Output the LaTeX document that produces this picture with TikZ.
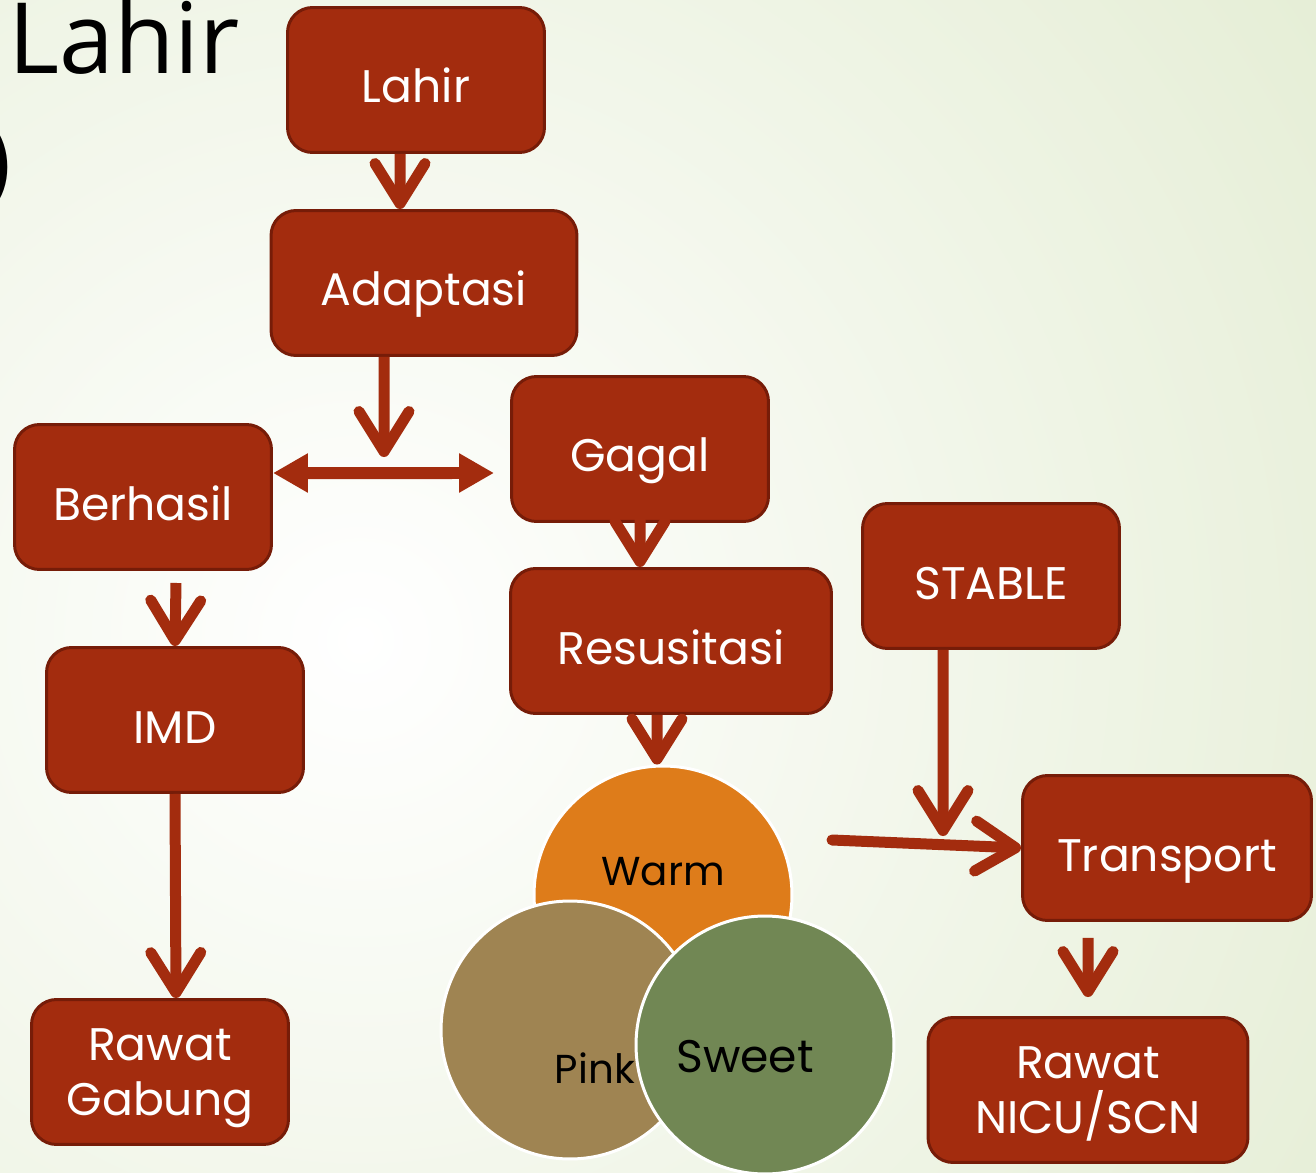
\documentclass[tikz,border=0pt]{standalone}
\usepackage{fontspec}
\newfontfamily\boxfont{Poppins}
\newfontfamily\titlefont{Open Sans}
\usetikzlibrary{arrows.meta}

\definecolor{boxred}{RGB}{163,44,14}
\definecolor{boxline}{RGB}{118,28,8}
\definecolor{warmc}{RGB}{222,124,26}
\definecolor{pinkc}{RGB}{159,132,82}
\definecolor{sweetc}{RGB}{113,135,84}
\definecolor{bgedge}{RGB}{222,233,202}

\tikzset{
  box/.style={draw=boxline,line width=0.06cm,fill=boxred,rounded corners=0.5cm,
    minimum width=5.14cm,minimum height=2.9cm,text=white,align=center,
    text height=0.92cm,text depth=0cm,
    font=\boxfont\fontsize{26}{31}\selectfont},
  twoline/.style={text height=,text depth=0cm},
  ball/.style={circle,draw=white,line width=0.06cm,minimum size=5.16cm,inner sep=0pt},
  balltext/.style={text=black,inner sep=0pt,font=\boxfont\fontsize{23}{28}\selectfont},
  flow/.style={draw=boxred,line width=0.22cm,-{Straight Barb[length=0.8cm,width=1.0cm,round]}},
  both/.style={draw=boxred,line width=0.24cm,{Triangle[length=0.7cm,width=0.74cm]}-{Triangle[length=0.7cm,width=0.74cm]}}
}

\begin{document}
\begin{tikzpicture}[x=0.02cm,y=-0.02cm]
        \useasboundingbox (0,0) rectangle (1316,1173);
        \begin{scope}
        \clip (0,0) rectangle (1316,1173);
        \fill[bgedge] (0,0) rectangle (1316,1173);
        \shade[inner color=white,outer color=bgedge] (360,640) circle (1500);
        \end{scope}
        % title remains
        \draw (8,73) node[anchor=base west,inner sep=0,font=\titlefont\fontsize{56}{64}\selectfont] (title) {Lahir};
        \draw (12,193) node[anchor=base east,inner sep=0,font=\titlefont\fontsize{54}{64}\selectfont] (paren) {)};
        % boxes
        \draw (416,80) node[box] (Lahir) {Lahir};
        \draw (424,283) node[box,minimum width=6.12cm] (Adaptasi) {Adaptasi};
        \draw (143,497) node[box] (Berhasil) {Berhasil};
        \draw (640,449) node[box] (Gagal) {Gagal};
        \draw (671,641) node[box,minimum width=6.42cm] (Resusitasi) {Resusitasi};
        \draw (991,576) node[box] (Stable) {STABLE};
        \draw (175,720) node[box] (IMD) {IMD};
        \draw (1167,848) node[box,minimum width=5.78cm] (Transport) {Transport};
        \draw (160,1072) node[box,twoline] (Gabung) {Rawat\\Gabung};
        \draw (1088,1090) node[box,twoline,minimum width=6.4cm] (Nicu) {Rawat\\NICU/SCN};
        % warm pink sweet
        \draw (663,895) node[ball,fill=warmc] (Warm) {};
        \draw ([yshift=0.46cm]Warm.center) node[balltext] (warmtext) {Warm};
        \draw (570,1030) node[ball,fill=pinkc] (Pink) {};
        \draw ([xshift=0.5cm,yshift=-0.76cm]Pink.center) node[balltext] (pinktext) {Pink};
        \draw (765,1045) node[ball,fill=sweetc] (Sweet) {};
        \draw ([xshift=-0.4cm,yshift=-0.24cm]Sweet.center) node[balltext,font=\boxfont\fontsize{26}{31}\selectfont] (sweettext) {Sweet};
        % free ends
        \coordinate (split) at (384,457);
        \coordinate (stabend) at (943,836);
        \coordinate (warmout) at (832,840);
        % arrows
        \draw[flow] ([xshift=-0.32cm]Lahir.south) -- ([xshift=-0.48cm]Adaptasi.north);
        \draw[flow] ([xshift=-0.8cm]Adaptasi.south) -- (split);
        \draw[both] ([yshift=0.48cm]Berhasil.east) -- ([xshift=-0.32cm,yshift=-0.48cm]Gagal.west);
        \draw[flow] ([yshift=0.4cm]Gagal.south) -- ([xshift=-0.62cm]Resusitasi.north);
        \draw[flow] ([xshift=0.66cm,yshift=-0.24cm]Berhasil.south) -- (IMD.north);
        \draw[flow] (IMD.south) -- ([xshift=0.32cm]Gabung.north);
        \draw[flow] ([xshift=-0.28cm]Resusitasi.south) -- ([xshift=-0.12cm]Warm.north);
        \draw[flow] ([xshift=-0.96cm]Stable.south) -- (stabend);
        \draw[flow,line cap=round] (warmout) -- (Transport.west);
        \draw[flow] ([xshift=-1.58cm,yshift=-0.32cm]Transport.south) -- ([yshift=0.38cm]Nicu.north);
\end{tikzpicture}
\end{document}
